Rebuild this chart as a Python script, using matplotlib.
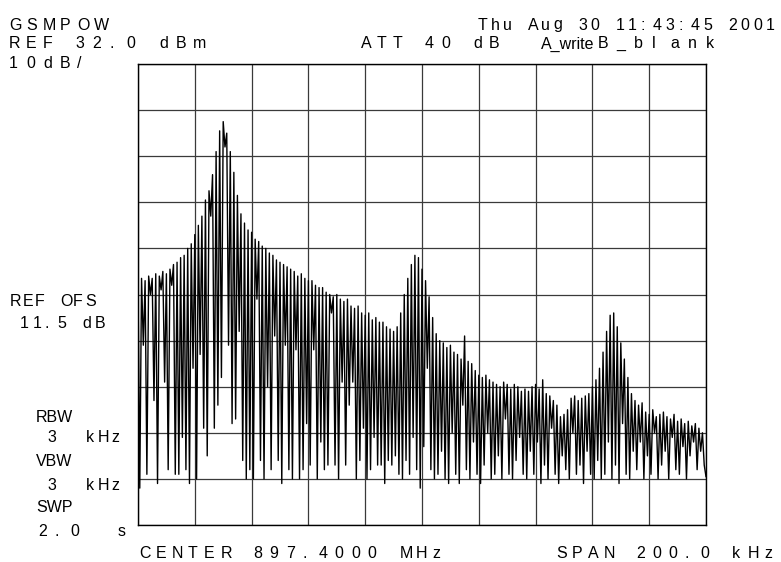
import numpy as np
import matplotlib
matplotlib.use("Agg")
import matplotlib.pyplot as plt

# analyzer settings
center_mhz = 897.4
span_mhz = 0.2
ref_dbm = 32.0
db_per_div = 10

# top of each trace cycle (dBm), left to right
peaks = [
    -15.5, -14.5, -15.0, -14.0, -14.5, -13.5, -14.0, -13.0, -13.5, -12.5,
    -11.5, -11.0, -10.0, -9.5, -8.0, -7.0, -5.0, -3.0, -1.0, 2.5,
    4.5, 8.0, 13.0, 17.5, 19.5, 17.0, 13.0, 8.5, 3.5, -0.5,
    -2.5, -4.0, -4.5, -6.0, -6.5, -7.5, -8.0, -9.0, -9.5, -10.5,
    -11.0, -11.5, -12.0, -12.5, -13.0, -14.0, -13.5, -14.5, -15.0, -15.0,
    -16.0, -16.5, -16.5, -17.5, -18.0, -18.5, -18.0, -19.0, -19.5, -19.0,
    -20.5, -21.0, -20.5, -22.0, -22.5, -22.0, -23.5, -23.0, -24.0, -24.0,
    -25.0, -25.5, -26.0, -25.0, -22.0, -18.0, -14.5, -11.5, -9.5, -10.0,
    -12.5, -15.0, -18.5, -23.0, -26.5, -28.0, -28.5, -29.5, -29.0, -30.5,
    -31.0, -32.0, -27.0, -32.5, -33.0, -34.5, -35.5, -36.0, -35.5, -36.5,
    -37.0, -37.5, -38.0, -37.0, -37.5, -38.5, -37.5, -38.0, -39.0, -38.5,
    -39.0, -38.0, -37.5, -38.5, -36.5, -39.5, -40.0, -41.0, -42.0, -44.5,
    -44.0, -43.0, -40.5, -40.0, -41.0, -40.5, -40.0, -39.5, -38.0, -36.5,
    -34.0, -30.5, -26.0, -22.5, -22.0, -25.0, -28.5, -32.0, -36.0, -39.5,
    -41.0, -42.0, -41.5, -43.5, -44.0, -43.0, -44.5, -44.0, -43.5, -44.5,
    -45.0, -44.0, -45.5, -45.0, -46.0, -45.5, -46.5, -46.0, -47.0, -48.0,
]

# bottom of each trace cycle (dBm)
dips = [
    -60, -29, -57, -18, -41, -59, -17, -37, -56, -16,
    -57, -57, -49, -56, -59, -34, -58, -31, -47, -53,
    -1, -47, -42, -36, 14, -29, -46, -45, -26, -54,
    -58, -56, -58, -19, -54, -58, -38, -56, -27, -54,
    -59, -29, -56, -58, -30, -58, -56, -46, -55, -30,
    -58, -50, -56, -55, -22, -55, -58, -37, -55, -42,
    -37, -58, -54, -47, -58, -56, -49, -55, -55, -59,
    -54, -55, -53, -57, -58, -54, -57, -49, -56, -60,
    -51, -34, -56, -58, -57, -52, -58, -59, -48, -57,
    -59, -42, -56, -58, -50, -57, -59, -55, -48, -58,
    -57, -53, -58, -45, -57, -58, -54, -49, -57, -58,
    -52, -57, -50, -59, -55, -58, -47, -57, -59, -53,
    -56, -58, -48, -57, -55, -59, -52, -57, -58, -54,
    -58, -57, -50, -58, -55, -59, -46, -57, -58, -52,
    -56, -50, -58, -53, -57, -48, -58, -55, -52, -58,
    -49, -56, -57, -51, -58, -53, -50, -56, -52, -55,
]
last_point = -57.5

trace = []
for p, d in zip(peaks, dips):
    trace.extend([p, d])
trace.append(last_point)
trace = np.array(trace)
freq = np.linspace(center_mhz - span_mhz / 2, center_mhz + span_mhz / 2, len(trace))

W, H = 781, 562
fig = plt.figure(figsize=(W / 100, H / 100), dpi=100)
ax = fig.add_axes([138 / W, 1 - 525 / H, 568 / W, 461 / H])

ax.plot(freq, trace, color="black", lw=1.0)

ax.set_xlim(center_mhz - span_mhz / 2, center_mhz + span_mhz / 2)
ax.set_ylim(ref_dbm - 10 * db_per_div, ref_dbm)
ax.set_xticks(np.linspace(center_mhz - span_mhz / 2, center_mhz + span_mhz / 2, 11))
ax.set_yticks(np.arange(ref_dbm - 10 * db_per_div, ref_dbm + 1, db_per_div))
ax.tick_params(length=0, labelbottom=False, labelleft=False)
ax.grid(True, color="#3a3a3a", lw=0.9)
for s in ax.spines.values():
    s.set_color("black")
    s.set_linewidth(1.0)

font = dict(family="Liberation Sans", fontsize=11.5, color="black", va="center")


def cells(x, y, s, pitch):
    # instrument style text: one character per fixed cell
    for k, ch in enumerate(s):
        if ch != " ":
            fig.text((x + k * pitch) / W, 1 - y / H, ch, ha="left", **font)


def plain(x, y, s):
    fig.text(x / W, 1 - y / H, s, ha="left", **font)


cells(9, 25, "GSMPOW", 17)
cells(478, 25, "Thu Aug 30 11:43:45 2001", 12.5)
cells(9, 44, "REF 32.0 dBm", 16.7)
cells(361, 44, "ATT 40 dB", 16)
plain(541, 44, "A_write")
cells(598, 44, "B_blank", 18)
cells(9, 64, "10dB/", 17)

cells(10, 301, "REF OFS", 12.5)
cells(20, 323, "11.5 dB", 12.5)
plain(36, 417, "RBW")
cells(47, 438, "3  kHz", 12.8)
plain(36, 462, "VBW")
cells(47, 485, "3  kHz", 12.8)
plain(36, 508, "SWP")
cells(38, 531, "2.0  s", 16)

cells(139, 553, "CENTER 897.4000 MHz", 16.3)
cells(556, 553, "SPAN 200.0 kHz", 16)

fig.savefig("out.png", dpi=100)
plt.close()
